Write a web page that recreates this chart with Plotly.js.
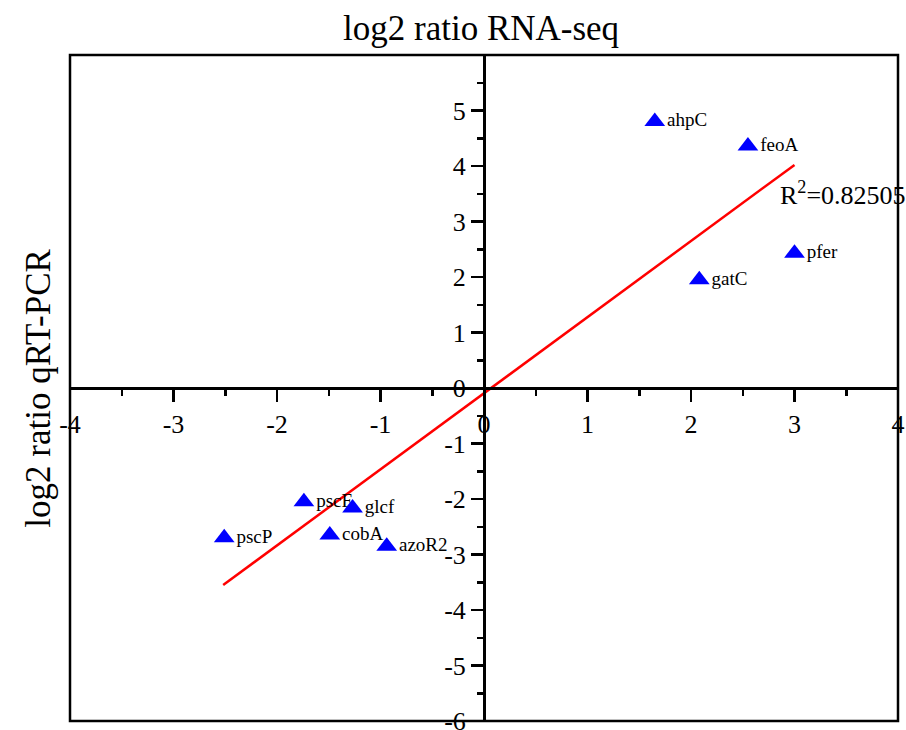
<!DOCTYPE html>
<html>
<head>
<meta charset="utf-8">
<script src="https://cdn.plot.ly/plotly-3.0.1.min.js"></script>
<style>html,body{margin:0;padding:0;background:#fff;}#chart{width:906px;height:730px;}</style>
</head>
<body>
<div id="chart"></div>
<script>
var genes = ["ahpC", "feoA", "pfer", "gatC", "pscF", "glcf", "pscP", "cobA", "azoR2"];
var rnaSeq = [1.65, 2.55, 3.00, 2.08, -1.74, -1.27, -2.51, -1.49, -0.94];
var qrtPcr = [4.80, 4.36, 2.43, 1.95, -2.05, -2.16, -2.70, -2.65, -2.85];
var fitX = [-2.52, 3.00];
var fitY = [-3.55, 4.02];
var r2Text = "R<sup>2</sup>=0.82505";
var xTicks = [-4, -3, -2, -1, 0, 1, 2, 3, 4];
var yTicks = [-6, -5, -4, -3, -2, -1, 0, 1, 2, 3, 4, 5];

var serif = "Liberation Serif, Times New Roman, serif";

var traces = [
  {
    x: fitX, y: fitY, mode: "lines", type: "scatter",
    line: {color: "#ff0000", width: 2.5}, hoverinfo: "skip", showlegend: false
  },
  {
    x: rnaSeq, y: qrtPcr, text: genes, mode: "markers+text", type: "scatter",
    textposition: "middle right",
    textfont: {family: serif, size: 19, color: "#000"},
    marker: {symbol: "triangle-up", size: 18, color: "#0000ff"},
    cliponaxis: false, showlegend: false
  }
];

var layout = {
  width: 906, height: 730,
  margin: {l: 70, r: 8, t: 55, b: 9},
  paper_bgcolor: "#fff", plot_bgcolor: "#fff",
  font: {family: serif, color: "#000"},
  title: {text: "log2 ratio RNA-seq", font: {family: serif, size: 35, color: "#000"},
          x: 0.531, xref: "container", y: 0.962, yref: "container", yanchor: "middle"},
  xaxis: {
    range: [-4, 4], anchor: "free", position: 0.5,
    tickmode: "array", tickvals: xTicks, ticktext: xTicks.map(String),
    ticks: "outside", ticklen: 12, tickwidth: 2.5, tickcolor: "#000",
    minor: {ticks: "outside", dtick: 0.5, ticklen: 6, tickwidth: 2.5, tickcolor: "#000", showgrid: false},
    showline: true, linewidth: 2.5, linecolor: "#000",
    showgrid: false, zeroline: false, ticklabeloverflow: "allow",
    tickfont: {family: serif, size: 26, color: "#000"}
  },
  yaxis: {
    range: [-6, 6], anchor: "free", position: 0.5,
    tickmode: "array", tickvals: yTicks, ticktext: yTicks.map(String),
    ticks: "outside", ticklen: 12, tickwidth: 2.5, tickcolor: "#000",
    minor: {ticks: "outside", dtick: 0.5, ticklen: 6, tickwidth: 2.5, tickcolor: "#000", showgrid: false},
    showline: true, linewidth: 2.5, linecolor: "#000",
    showgrid: false, zeroline: false, ticklabeloverflow: "allow",
    tickfont: {family: serif, size: 26, color: "#000"}
  },
  shapes: [
    {type: "rect", xref: "paper", yref: "paper", x0: 0, x1: 1, y0: 0, y1: 1,
     line: {color: "#000", width: 2.5}, fillcolor: "rgba(0,0,0,0)", layer: "above"}
  ],
  annotations: [
    {text: r2Text, x: 2.84, y: 3.51, xref: "x", yref: "y", xanchor: "left", yanchor: "middle",
     showarrow: false, font: {family: serif, size: 26, color: "#000"}},
    {text: "log2 ratio qRT-PCR", xref: "paper", yref: "paper", x: -0.039, y: 0.5,
     xanchor: "center", yanchor: "middle", textangle: -90, showarrow: false,
     font: {family: serif, size: 35, color: "#000"}}
  ]
};

Plotly.newPlot("chart", traces, layout, {displayModeBar: false, staticPlot: true});
</script>
</body>
</html>
